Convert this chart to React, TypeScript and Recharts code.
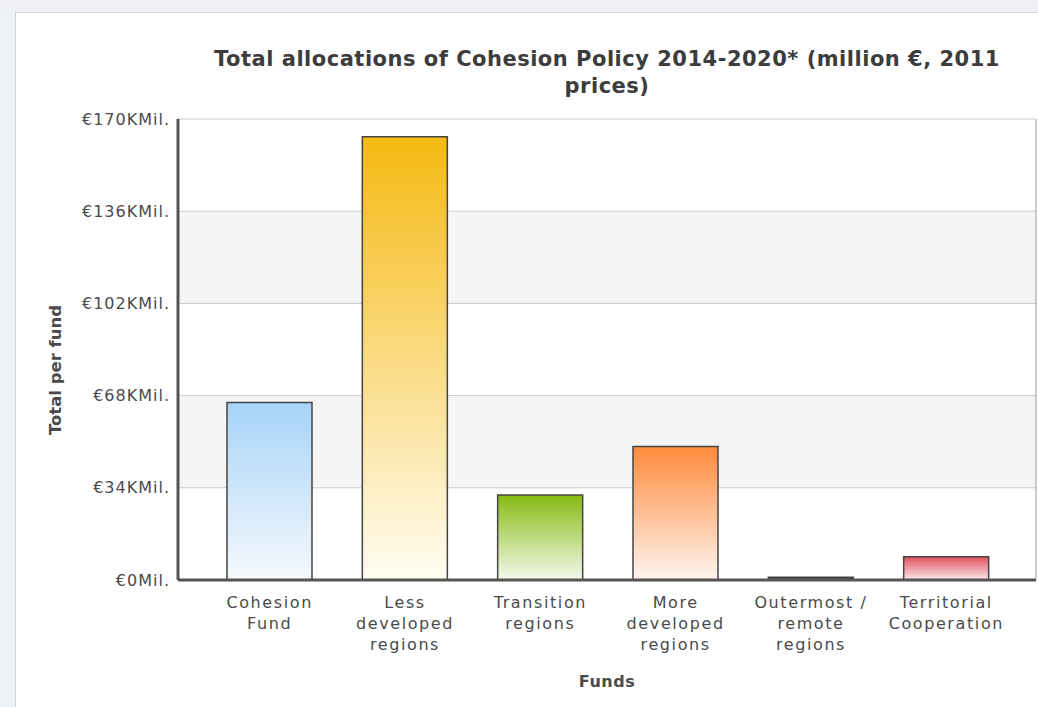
import React from 'react';
import { BarChart, Bar, Cell, XAxis, YAxis, CartesianGrid } from 'recharts';

const title = 'Total allocations of Cohesion Policy 2014-2020* (million €, 2011 prices)';
const xTitle = 'Funds';
const yTitle = 'Total per fund';

const categories = [
  'Cohesion Fund',
  'Less developed regions',
  'Transition regions',
  'More developed regions',
  'Outermost / remote regions',
  'Territorial Cooperation',
];
// thousand million €
const totals = [65.5, 163.5, 31.3, 49.2, 1.0, 8.6];
const yTicks = [0, 34, 68, 102, 136, 170];

// gradient top / bottom per bar
const topColors = ['#a6d3f7', '#f5b912', '#86bb14', '#ff8a3c', '#3a3a3a', '#e0505e'];
const bottomColors = ['#f6f9fd', '#fffcf2', '#f5f9ec', '#fff5f0', '#555555', '#fbe9eb'];

const data = categories.map((name, i) => ({ name, value: totals[i] }));

const FONT = "'DejaVu Sans', Verdana, sans-serif";
const TEXT = '#4a4a4a';

// greedy wrap, ~11 chars per line
const wrap = (s: string) => {
  const lines: string[] = [];
  let cur = '';
  s.split(' ').forEach((w) => {
    const next = cur ? cur + ' ' + w : w;
    if (next.length <= 11 || !cur) cur = next;
    else {
      lines.push(cur);
      cur = w;
    }
  });
  if (cur) lines.push(cur);
  return lines;
};

const CategoryTick = ({ x, y, payload }: any) => {
  const lines = wrap(payload.value);
  return (
    <text x={x} y={y + 20} textAnchor="middle" fill={TEXT} fontFamily={FONT} fontSize={16} letterSpacing={1.6}>
      {lines.map((l, i) => (
        <tspan key={i} x={x} dy={i === 0 ? 0 : 21}>
          {l}
        </tspan>
      ))}
    </text>
  );
};

const YTitle = () => (
  <text
    x={55}
    y={370}
    transform="rotate(-90 55 370)"
    textAnchor="middle"
    dominantBaseline="central"
    fill={TEXT}
    fontFamily={FONT}
    fontWeight="bold"
    fontSize={16.5}
  >
    {yTitle}
  </text>
);

const fmt = (v: number) => (v === 0 ? '€0Mil.' : `€${v}KMil.`);

export default function App() {
  return (
    <div style={{ position: 'fixed', left: 0, top: 0, width: 1038, height: 707, background: '#fff', overflow: 'hidden' }}>
      <div style={{ position: 'absolute', left: 0, top: 0, width: 1038, height: 12, background: '#eef0f3', borderBottom: '1px solid #cfd4da' }} />
      <div style={{ position: 'absolute', left: 0, top: 12, width: 15, height: 695, background: '#eef2f7', borderRight: '1px solid #cdd4dc' }} />
      <div
        style={{
          position: 'absolute',
          left: 197,
          top: 46,
          width: 820,
          textAlign: 'center',
          fontFamily: FONT,
          fontWeight: 'bold',
          fontSize: 21,
          letterSpacing: 0.5,
          lineHeight: '27px',
          color: '#3c3c3c',
        }}
      >
        {title}
      </div>
      <BarChart
        width={1038}
        height={707}
        data={data}
        margin={{ top: 119, right: 0, bottom: 0, left: 0 }}
        style={{ position: 'absolute', left: 0, top: 0 }}
      >
        <defs>
          {topColors.map((c, i) => (
            <linearGradient key={i} id={`g${i}`} x1="0" y1="0" x2="0" y2="1">
              <stop offset="0%" stopColor={c} />
              <stop offset="100%" stopColor={bottomColors[i]} />
            </linearGradient>
          ))}
        </defs>
        <CartesianGrid vertical={false} stroke="#cccccc" horizontalFill={['#ffffff', '#f5f5f5']} />
        <XAxis
          dataKey="name"
          height={127}
          padding={{ left: 24, right: 22 }}
          axisLine={{ stroke: '#555', strokeWidth: 3 }}
          tickLine={false}
          interval={0}
          tick={<CategoryTick />}
          label={{
            value: xTitle,
            position: 'insideBottom',
            offset: 20,
            fill: TEXT,
            fontFamily: FONT,
            fontWeight: 'bold',
            fontSize: 16,
            letterSpacing: 0.5,
          }}
        />
        <XAxis xAxisId="top" orientation="top" height={0} tick={false} tickLine={false} axisLine={{ stroke: '#555', strokeWidth: 3 }} />
        <YAxis
          width={178}
          domain={[0, 170]}
          ticks={yTicks}
          tickFormatter={fmt}
          axisLine={{ stroke: '#555', strokeWidth: 3 }}
          tickLine={false}
          tickMargin={2}
          tick={{ fill: TEXT, fontFamily: FONT, fontSize: 16, letterSpacing: 1 }}
          label={{ content: <YTitle /> }}
        />
        <YAxis yAxisId="r" orientation="right" width={2} domain={[0, 170]} tick={false} tickLine={false} axisLine={{ stroke: '#999', strokeWidth: 1 }} />
        <Bar dataKey="value" barSize={85} stroke="#444" strokeWidth={1.5} isAnimationActive={false}>
          {data.map((d, i) => (
            <Cell key={d.name} fill={`url(#g${i})`} />
          ))}
        </Bar>
      </BarChart>
    </div>
  );
}
